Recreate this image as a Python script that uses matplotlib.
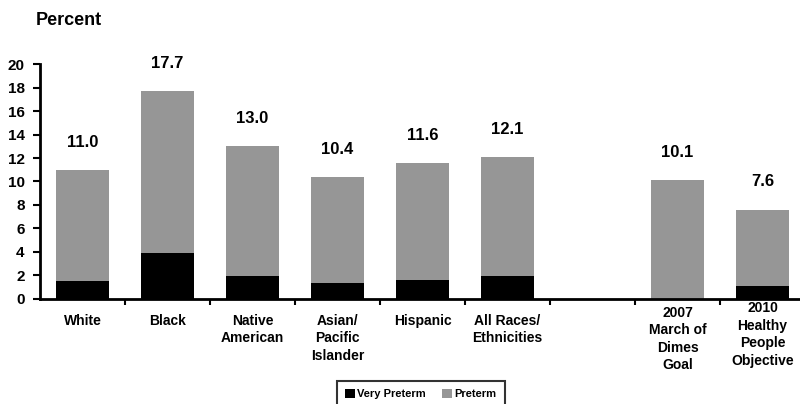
import numpy as np
import matplotlib.pyplot as plt

plt.rcParams['font.family'] = ['Liberation Sans', 'DejaVu Sans']
plt.rcParams['font.weight'] = 'bold'

# data
categories = ["White", "Black", "Native\nAmerican", "Asian/\nPacific\nIslander",
              "Hispanic", "All Races/\nEthnicities", "",
              "2007\nMarch of\nDimes\nGoal", "2010\nHealthy\nPeople\nObjective"]
totals = [11.0, 17.7, 13.0, 10.4, 11.6, 12.1, np.nan, 10.1, 7.6]
very_preterm = [1.5, 3.9, 1.9, 1.3, 1.6, 1.9, np.nan, 0.0, 1.1]

# label drop below the axis, points (4-line labels sit higher)
label_drop = [11.0, 11.0, 11.0, 11.0, 11.0, 11.0, 11.0, 5.0, 2.0]

x = np.arange(len(categories))
totals = np.array(totals)
very_preterm = np.array(very_preterm)
preterm = totals - very_preterm

fig = plt.figure(figsize=(8, 4.04), dpi=100)
ax = fig.add_axes([0.05, 0.2607, 0.95625, 0.5802])

ax.bar(x, very_preterm, width=0.62, color='black', label='Very Preterm')
ax.bar(x, preterm, width=0.62, bottom=very_preterm, color='#969696', label='Preterm')

for i in range(len(x)):
    if not np.isnan(totals[i]):
        ax.annotate(f"{totals[i]:.1f}", xy=(x[i], totals[i]), xytext=(0, 14.5),
                    textcoords='offset points', ha='center', va='bottom',
                    fontsize=12, fontweight='bold')
    ax.annotate(categories[i], xy=(x[i], 0), xycoords=('data', 'axes fraction'),
                xytext=(0, -label_drop[i]), textcoords='offset points',
                ha='center', va='top', fontsize=10, fontweight='bold',
                linespacing=1.32)

ax.set_ylim(0, 20)
ax.set_xlim(-0.5, 8.5)
ax.set_yticks(np.arange(0, 21, 2))
ax.tick_params(axis='y', labelsize=11, width=1.5, length=5, pad=6)
ax.set_xticks(np.arange(0.5, 8.5, 1))
ax.set_xticklabels([])
ax.tick_params(axis='x', width=1.5, length=4, direction='out')
for lab in ax.get_yticklabels():
    lab.set_fontweight('bold')

ax.spines['top'].set_visible(False)
ax.spines['right'].set_visible(False)
ax.spines['left'].set_linewidth(2)
ax.spines['bottom'].set_linewidth(2)

fig.text(0.045, 0.95, "Percent", fontsize=13, fontweight='bold', va='center', ha='left')

leg = fig.legend(loc='upper center', bbox_to_anchor=(0.526, 0.056), ncol=2,
                 fontsize=8, frameon=True, fancybox=False, handlelength=0.9,
                 handleheight=0.8, handletextpad=0.2, columnspacing=1.5,
                 borderpad=0.7, borderaxespad=0.0)
leg.get_frame().set_edgecolor('black')
leg.get_frame().set_linewidth(1.5)

fig.savefig("out.png", dpi=100)
